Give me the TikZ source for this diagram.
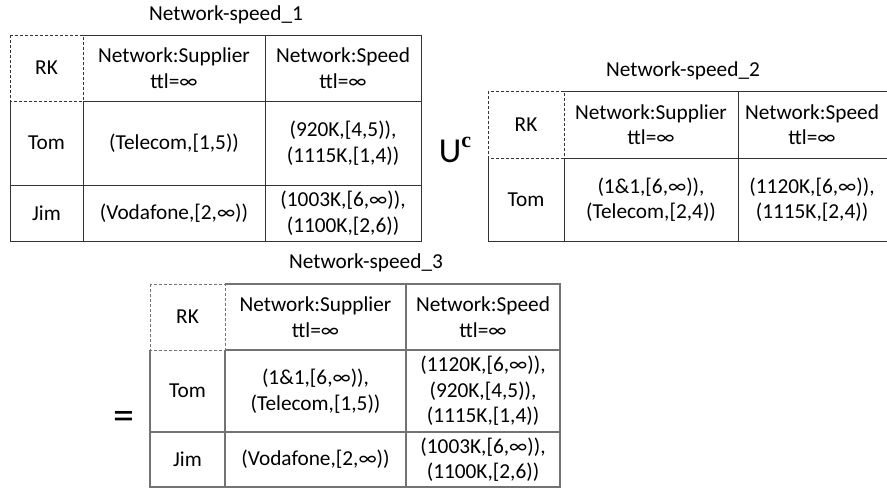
\documentclass[tikz,border=0pt]{standalone}
\usepackage{fontspec}
\setmainfont{Carlito}
\newfontfamily\supfont{Liberation Serif}
\tikzset{
  cell/.style={align=center, inner sep=0pt, font=\fontsize{21.3}{25.5}\selectfont},
  ttl/.style={inner sep=0pt, font=\fontsize{21.3}{25.5}\selectfont},
  gridA/.style={draw=black!80, line width=0.9pt},
  gridB/.style={draw=black!55, line width=1.3pt},
  rkbox/.style={dashed, dash pattern=on 3pt off 2pt, line width=0.8pt},
}
\begin{document}
\begin{tikzpicture}[x=1pt,y=-1pt]
\useasboundingbox[fill=white] (0,0) rectangle (887,491);

% ---------- Table 1 ----------
\node[ttl] (t1) at (226,15) {Network-speed\_1};
\draw[gridA,rkbox] (10,35) rectangle (83,101);
\draw[gridA] (83,35) -- (421,35) -- (421,241) -- (10,241) -- (10,101);
\draw[gridA] (83,101) -- (421,101);
\draw[gridA] (10,185) -- (421,185);
\draw[gridA] (83,101) -- (83,241);
\draw[gridA] (265,35) -- (265,241);
\node[cell] (a11) at (46.5,68) {RK};
\node[cell] (a12) at (174,68) {Network:Supplier\\ttl=∞};
\node[cell] (a13) at (343,68) {Network:Speed\\ttl=∞};
\node[cell] (a21) at (46.5,143) {Tom};
\node[cell] (a22) at (174,143) {(Telecom,[1,5))};
\node[cell] (a23) at (343,143) {(920K,[4,5)),\\(1115K,[1,4))};
\node[cell] (a31) at (46.5,213) {Jim};
\node[cell] (a32) at (174,213) {(Vodafone,[2,∞))};
\node[cell] (a33) at (343,213) {(1003K,[6,∞)),\\(1100K,[2,6))};

% ---------- operator U^c ----------
\node[inner sep=0pt, font=\fontsize{35}{35}\selectfont] (uc) at (455,150) {U\raisebox{15pt}{\supfont\bfseries\fontsize{22}{22}\selectfont c}};

% ---------- Table 2 ----------
\node[ttl] (t2) at (683,71) {Network-speed\_2};
\draw[gridA,rkbox] (488,91) rectangle (564,158);
\draw[gridA] (564,91) -- (887,91);
\draw[gridA] (564,158) -- (887,158);
\draw[gridA] (488,158) -- (488,241) -- (887,241);
\draw[gridA] (564,158) -- (564,241);
\draw[gridA] (738,91) -- (738,241);
\node[cell] (b11) at (526,124.5) {RK};
\node[cell] (b12) at (651,124.5) {Network:Supplier\\ttl=∞};
\node[cell] (b13) at (812,124.5) {Network:Speed\\ttl=∞};
\node[cell] (b21) at (526,199.5) {Tom};
\node[cell] (b22) at (651,199.5) {(1\&1,[6,∞)),\\(Telecom,[2,4))};
\node[cell] (b23) at (812,199.5) {(1120K,[6,∞)),\\(1115K,[2,4))};

% ---------- equals ----------
\node[inner sep=0pt, font=\fontsize{42}{42}\selectfont] (eq) at (124,420) {=};

% ---------- Table 3 ----------
\node[ttl] (t3) at (366,263) {Network-speed\_3};
\draw[gridB,rkbox] (150,284) rectangle (225,350);
\draw[gridB] (225,284) -- (560,284) -- (560,487) -- (150,487) -- (150,350);
\draw[gridB] (225,350) -- (560,350);
\draw[gridB] (150,432) -- (560,432);
\draw[gridB] (225,350) -- (225,487);
\draw[gridB] (406,284) -- (406,487);
\node[cell] (c11) at (187.5,317) {RK};
\node[cell] (c12) at (315.5,317) {Network:Supplier\\ttl=∞};
\node[cell] (c13) at (483,317) {Network:Speed\\ttl=∞};
\node[cell] (c21) at (187.5,391) {Tom};
\node[cell] (c22) at (315.5,391) {(1\&1,[6,∞)),\\(Telecom,[1,5))};
\node[cell] (c23) at (483,391) {(1120K,[6,∞)),\\(920K,[4,5)),\\(1115K,[1,4))};
\node[cell] (c31) at (187.5,459.5) {Jim};
\node[cell] (c32) at (315.5,459.5) {(Vodafone,[2,∞))};
\node[cell] (c33) at (483,459.5) {(1003K,[6,∞)),\\(1100K,[2,6))};
\end{tikzpicture}
\end{document}
